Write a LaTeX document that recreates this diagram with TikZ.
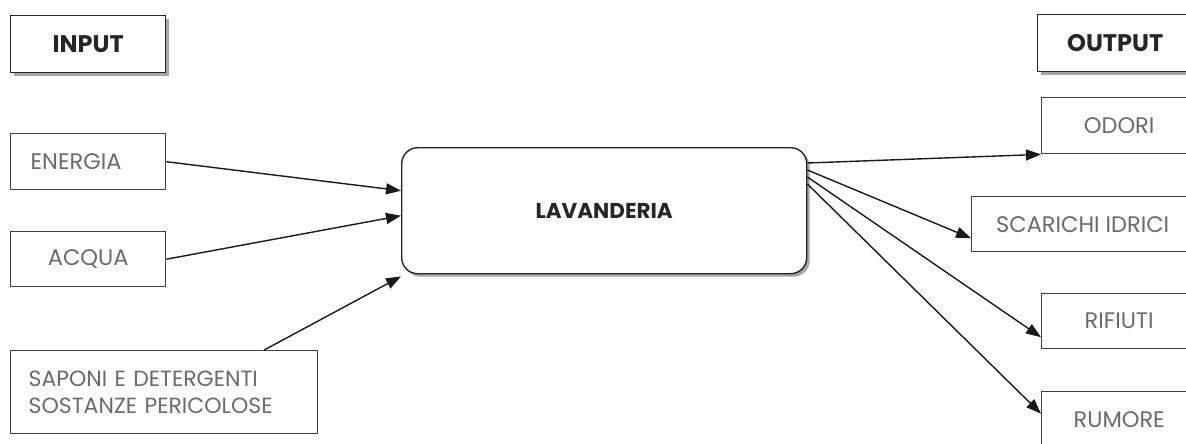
\documentclass[tikz,border=0pt]{standalone}
\usepackage{fontspec}
\setmainfont{Poppins}
\usetikzlibrary{arrows.meta,shadows}
\definecolor{txtgray}{gray}{0.42}
\definecolor{linegray}{gray}{0.25}
\tikzset{
  plainbox/.style={draw=linegray, line width=1.4pt, fill=white, rectangle, anchor=north west,
     font=\fontsize{22.5pt}{24pt}\selectfont, text=txtgray, inner sep=0pt},
  headbox/.style={draw=black!85, line width=1.4pt, fill=white, rectangle, anchor=north west,
     font=\bfseries\fontsize{24pt}{26pt}\selectfont, text=black!85, inner sep=0pt,
     drop shadow={shadow xshift=3pt, shadow yshift=-3pt, fill=gray!70, opacity=1}},
  arr/.style={draw=black!90, line width=1.4pt, -{Triangle[length=15pt,width=11pt]}},
}
\begin{document}
\begin{tikzpicture}[x=1pt,y=-1pt]
\useasboundingbox (0,0) rectangle (1186,444);
\clip (0,0) rectangle (1186,444);
% header boxes
\node[headbox, minimum width=155pt, minimum height=57pt] (input) at (10,15) {INPUT};
\node[headbox, minimum width=155pt, minimum height=57pt] (output) at (1037,14) {OUTPUT};
% inputs
\node[plainbox, minimum width=155pt, minimum height=56pt, text width=115pt, align=left, inner xsep=20pt] (energia) at (10,133) {ENERGIA};
\node[plainbox, minimum width=155pt, minimum height=55pt] (acqua) at (10,231) {ACQUA};
\node[plainbox, minimum width=307pt, minimum height=83pt, text width=271pt, align=left, inner xsep=18pt, font=\fontsize{22pt}{27pt}\selectfont] (saponi) at (10,350) {SAPONI E DETERGENTI\\SOSTANZE PERICOLOSE};
% central
\node[draw=black!85, line width=1.4pt, fill=white, rounded corners=16pt, anchor=north west,
  minimum width=405pt, minimum height=126pt, font=\bfseries\fontsize{21.5pt}{23pt}\selectfont, text=black!85,
  drop shadow={shadow xshift=3pt, shadow yshift=-3pt, fill=gray!70, opacity=1}] (lav) at (401,147) {LAVANDERIA};
% outputs
\node[plainbox, minimum width=155pt, minimum height=56pt] (odori) at (1041,97) {ODORI};
\node[plainbox, minimum width=222pt, minimum height=55pt] (scarichi) at (971,196) {SCARICHI IDRICI};
\node[plainbox, minimum width=155pt, minimum height=55pt] (rifiuti) at (1041,293) {RIFIUTI};
\node[plainbox, minimum width=155pt, minimum height=56pt] (rumore) at (1041,391) {RUMORE};
% connectors
\draw[arr] (energia.east) -- ([yshift=20pt]lav.west);
\draw[arr] (acqua.east) -- ([yshift=-5pt]lav.west);
\draw[arr] ([xshift=100pt]saponi.north) -- ([yshift=-2pt]lav.south west);
\draw[arr] ([yshift=-16pt]lav.north east) -- (odori.south west);
\draw[arr] ([yshift=-23pt]lav.north east) -- ([yshift=-14pt]scarichi.west);
\draw[arr] ([yshift=-30pt]lav.north east) -- ([yshift=-16pt]rifiuti.west);
\draw[arr] ([yshift=-37pt]lav.north east) -- ([yshift=6pt]rumore.west);
\end{tikzpicture}
\end{document}
